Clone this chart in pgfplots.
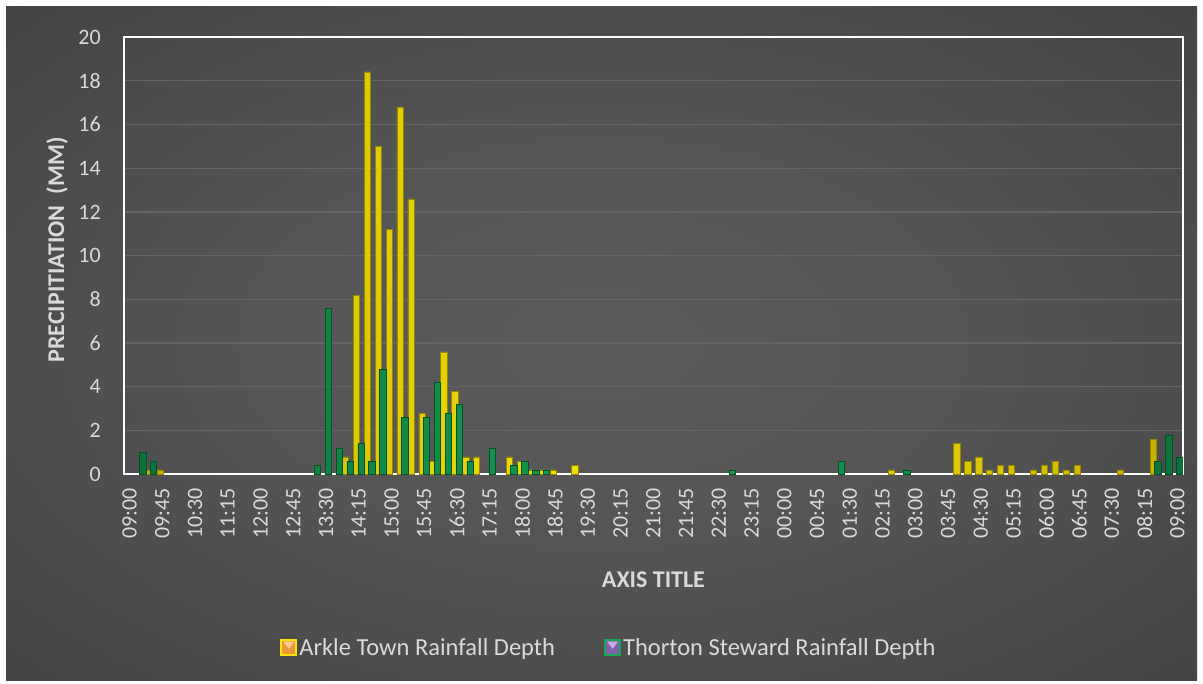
\documentclass[border=0pt]{standalone}
\usepackage{pgfplots}
\pgfplotsset{compat=1.18}
\usepackage{fontspec}
\setmainfont{Carlito}
\definecolor{txt}{RGB}{217,217,217}
\definecolor{bgin}{RGB}{90,90,90}
\definecolor{bgout}{RGB}{38,38,38}
\definecolor{gridc}{RGB}{100,100,100}
\definecolor{ylw}{RGB}{248,230,10}
\definecolor{ylwd}{RGB}{200,180,0}
\definecolor{ylwo}{RGB}{150,135,0}
\definecolor{grn}{RGB}{22,160,85}
\definecolor{grnd}{RGB}{10,115,58}
\definecolor{grno}{RGB}{5,80,40}
\definecolor{legA}{RGB}{240,150,60}
\definecolor{legAl}{RGB}{252,205,150}
\definecolor{legB}{RGB}{130,95,170}
\definecolor{legBl}{RGB}{200,170,230}
\definecolor{legBg}{RGB}{20,170,80}
\pgfdeclareradialshading{bgshade}{\pgfpoint{0bp}{0bp}}{color(0bp)=(bgin); color(15bp)=(bgin!90!bgout); color(72bp)=(bgout)}
\begin{document}
\begin{tikzpicture}[x=1pt,y=1pt]
\fill[white] (0,0) rectangle (1203,-684);
\shade[shading=bgshade] (6,-7) rectangle (1197,-680);
\begin{axis}[
  at={(124pt,-474.3pt)}, anchor=south west,
  width=1059pt, height=437.3pt, scale only axis,
  xmin=-0.5, xmax=96.5, ymin=0, ymax=20,
  ytick={0,2,...,20},
  xtick={0,3,...,96},
  xticklabels={09:00,09:45,10:30,11:15,12:00,12:45,13:30,14:15,15:00,15:45,16:30,17:15,18:00,18:45,19:30,20:15,21:00,21:45,22:30,23:15,00:00,00:45,01:30,02:15,03:00,03:45,04:30,05:15,06:00,06:45,07:30,08:15,09:00},
  major tick length=0pt,
  axis line style={white, line width=2pt},
  ymajorgrids, major grid style={gridc, line width=1.3pt},
  /pgf/number format/assume math mode=true,
  tick label style={font=\fontsize{22}{24}\selectfont, text=txt},
  xticklabel style={rotate=90, anchor=east, inner sep=0pt},
  yticklabel style={anchor=east, inner sep=0pt},
  xticklabel shift=14pt,
  yticklabel shift=23pt,
  xlabel={AXIS TITLE},
  ylabel={PRECIPITIATION\ \ (MM)},
  label style={font=\bfseries\fontsize{24}{28}\selectfont, text=txt},
  xlabel style={at={(axis description cs:0.5,-0.2417)}, anchor=center},
  ylabel style={at={(axis description cs:-0.0633,0.513)}, anchor=center},
  ybar, bar width=6.3pt,
  legend columns=2,
  legend style={at={(axis description cs:0.458,-0.397)}, anchor=center, draw=none, fill=none, text=txt, font=\fontsize{24.5}{28}\selectfont, nodes={inner sep=2pt}, /tikz/every even column/.append style={column sep=47pt}},
]
\addlegendimage{legend image code/.code={\draw[fill=legA, draw=ylw, line width=2pt] (0pt,-7pt) rectangle (15pt,8pt); \fill[legAl] (2.5pt,6pt) -- (12.5pt,6pt) -- (7.5pt,-0.5pt) -- cycle;}}
\addlegendentry{Arkle Town Rainfall Depth}
\addlegendimage{legend image code/.code={\draw[fill=legB, draw=legBg, line width=2pt] (0pt,-7pt) rectangle (15pt,8pt); \fill[legBl] (2.5pt,6pt) -- (12.5pt,6pt) -- (7.5pt,-0.5pt) -- cycle;}}
\addlegendentry{Thorton Steward Rainfall Depth}
\addplot[forget plot, bar shift=-2.25pt, draw=ylwo, line width=0.5pt, left color=ylwd, right color=ylwd, middle color=ylw]
coordinates {
(2,0.2) (3,0.2)
(20,0.8) (21,8.2) (22,18.4) (23,15.0) (24,11.2) (25,16.8) (26,12.6) (27,2.8) (28,0.6) (29,5.6) (30,3.8) (31,0.8) (32,0.8)
(35,0.8) (36,0.6) (37,0.2) (38,0.2) (39,0.2) (41,0.4)
(70,0.2)
(76,1.4) (77,0.6) (78,0.8) (79,0.2) (80,0.4) (81,0.4) (83,0.2) (84,0.4) (85,0.6) (86,0.2) (87,0.4) (91,0.2) (94,1.6)
};
\addplot[forget plot, bar shift=2.25pt, draw=grno, line width=0.5pt, left color=grnd, right color=grnd, middle color=grn]
coordinates {
(1,1.0) (2,0.6)
(17,0.4) (18,7.6) (19,1.2) (20,0.6) (21,1.4) (22,0.6) (23,4.8) (25,2.6) (27,2.6) (28,4.2) (29,2.8) (30,3.2) (31,0.6) (33,1.2)
(35,0.4) (36,0.6) (37,0.2) (38,0.2)
(55,0.2) (65,0.6) (71,0.2)
(94,0.6) (95,1.8) (96,0.8)
};
\end{axis}
\end{tikzpicture}
\end{document}
